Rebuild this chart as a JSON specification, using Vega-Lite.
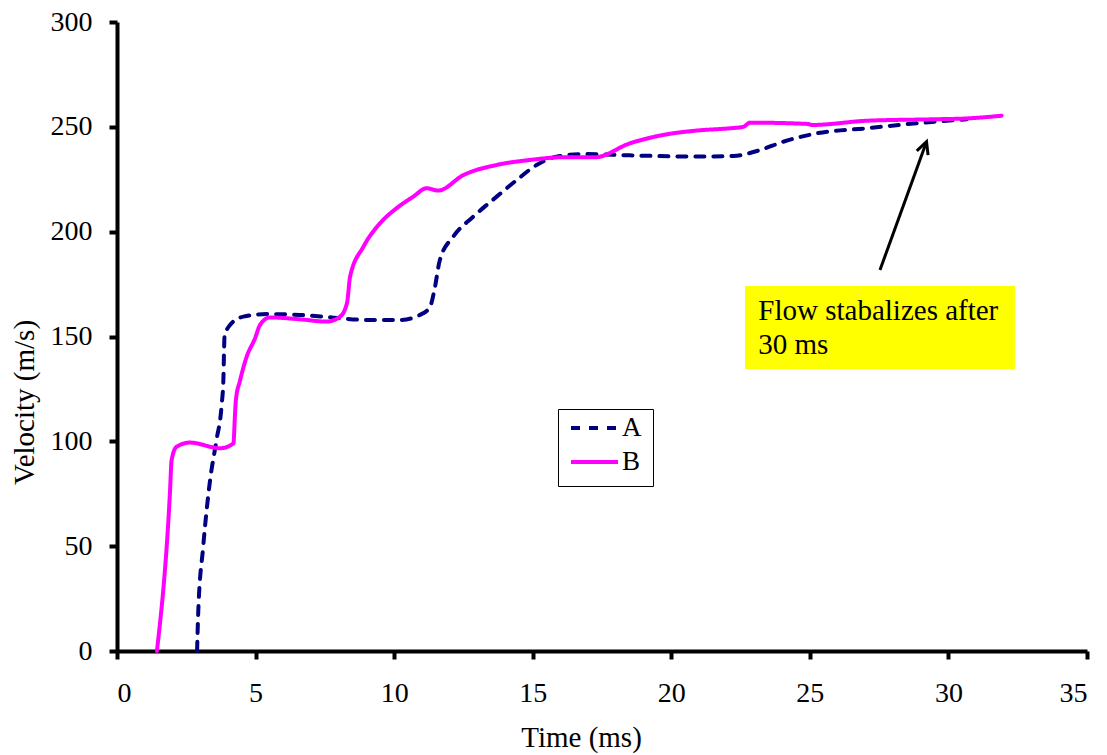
{
  "$schema": "https://vega.github.io/schema/vega-lite/v6.json",
  "autosize": {"type": "none"},
  "padding": {"left": 117, "top": 22, "right": 20, "bottom": 104},
  "width": 970,
  "height": 629,
  "background": "white",
  "config": {
    "view": {"stroke": null},
    "axis": {
      "grid": false,
      "domainColor": "black",
      "domainWidth": 4,
      "tickColor": "black",
      "tickWidth": 4,
      "tickSize": 8,
      "labelFont": "Liberation Serif",
      "labelFontSize": 28,
      "labelColor": "black",
      "titleFont": "Liberation Serif",
      "titleFontSize": 29,
      "titleFontWeight": "normal",
      "titleColor": "black"
    }
  },
  "datasets": {
    "series": [
      {"t": 2.89, "v": 0, "s": "A"}, {"t": 2.93, "v": 18, "s": "A"}, {"t": 3.11, "v": 49.7, "s": "A"},
      {"t": 3.36, "v": 81.6, "s": "A"}, {"t": 3.59, "v": 100.6, "s": "A"}, {"t": 3.77, "v": 116.5, "s": "A"},
      {"t": 3.84, "v": 130, "s": "A"}, {"t": 3.86, "v": 142, "s": "A"}, {"t": 3.88, "v": 150, "s": "A"},
      {"t": 4.08, "v": 155.5, "s": "A"}, {"t": 4.56, "v": 159.5, "s": "A"}, {"t": 5.4, "v": 160.7, "s": "A"},
      {"t": 6.6, "v": 160.3, "s": "A"}, {"t": 7.81, "v": 159, "s": "A"}, {"t": 9.0, "v": 157.9, "s": "A"},
      {"t": 10.21, "v": 157.9, "s": "A"}, {"t": 10.93, "v": 160.3, "s": "A"}, {"t": 11.29, "v": 164, "s": "A"},
      {"t": 11.45, "v": 172, "s": "A"}, {"t": 11.65, "v": 186.5, "s": "A"}, {"t": 12.13, "v": 197.6, "s": "A"},
      {"t": 12.85, "v": 207.1, "s": "A"}, {"t": 13.7, "v": 216.7, "s": "A"}, {"t": 14.42, "v": 224.6, "s": "A"},
      {"t": 15.14, "v": 231.8, "s": "A"}, {"t": 15.86, "v": 235.8, "s": "A"}, {"t": 16.82, "v": 237, "s": "A"},
      {"t": 18.5, "v": 236.4, "s": "A"}, {"t": 20.9, "v": 235.8, "s": "A"}, {"t": 22.24, "v": 236.1, "s": "A"},
      {"t": 23.2, "v": 238.9, "s": "A"}, {"t": 24.04, "v": 242.9, "s": "A"}, {"t": 25.25, "v": 246.9, "s": "A"},
      {"t": 27.05, "v": 249.3, "s": "A"}, {"t": 28.85, "v": 251.7, "s": "A"}, {"t": 30.66, "v": 253.6, "s": "A"},
      {"t": 1.44, "v": 0, "s": "B"}, {"t": 1.91, "v": 75.4, "s": "B"}, {"t": 1.97, "v": 91, "s": "B"},
      {"t": 2.15, "v": 97.4, "s": "B"}, {"t": 2.63, "v": 99.4, "s": "B"}, {"t": 3.72, "v": 96.7, "s": "B"},
      {"t": 4.2, "v": 99, "s": "B"}, {"t": 4.26, "v": 113.5, "s": "B"}, {"t": 4.29, "v": 119.7, "s": "B"},
      {"t": 4.44, "v": 129, "s": "B"}, {"t": 4.68, "v": 140.4, "s": "B"}, {"t": 4.98, "v": 149.1, "s": "B"},
      {"t": 5.16, "v": 155.5, "s": "B"}, {"t": 5.52, "v": 159.1, "s": "B"}, {"t": 6.6, "v": 158.2, "s": "B"},
      {"t": 7.57, "v": 157.1, "s": "B"}, {"t": 8.05, "v": 159.5, "s": "B"}, {"t": 8.3, "v": 166, "s": "B"},
      {"t": 8.41, "v": 178.5, "s": "B"}, {"t": 8.89, "v": 192.8, "s": "B"}, {"t": 9.49, "v": 204, "s": "B"},
      {"t": 10.09, "v": 211.2, "s": "B"}, {"t": 10.69, "v": 216.7, "s": "B"}, {"t": 11.17, "v": 220.7, "s": "B"},
      {"t": 11.59, "v": 219.6, "s": "B"}, {"t": 12.5, "v": 227, "s": "B"}, {"t": 13.7, "v": 231.8, "s": "B"},
      {"t": 14.9, "v": 234.2, "s": "B"}, {"t": 16.1, "v": 235.5, "s": "B"}, {"t": 17.25, "v": 235.5, "s": "B"},
      {"t": 18.5, "v": 242.1, "s": "B"}, {"t": 19.7, "v": 246.1, "s": "B"}, {"t": 20.9, "v": 248.2, "s": "B"},
      {"t": 22.1, "v": 249.3, "s": "B"}, {"t": 22.6, "v": 250, "s": "B"}, {"t": 22.84, "v": 252, "s": "B"},
      {"t": 24.9, "v": 251.4, "s": "B"}, {"t": 25.1, "v": 250.9, "s": "B"}, {"t": 27.05, "v": 252.9, "s": "B"},
      {"t": 29.45, "v": 253.6, "s": "B"}, {"t": 30.66, "v": 254, "s": "B"}, {"t": 31.92, "v": 255.3, "s": "B"}
    ],
    "box": [{"t1": 22.66, "t2": 32.4, "v1": 134.5, "v2": 174.1}],
    "notes": [
      {"t": 23.14, "v": 157.9, "label": "Flow stabalizes after"},
      {"t": 23.14, "v": 141.6, "label": "30 ms"}
    ],
    "arrow": [{"t1": 27.53, "v1": 181.7, "t2": 29.21, "v2": 242.9}]
  },
  "layer": [
    {
      "data": {"name": "box"},
      "mark": {"type": "rect", "fill": "#FFFF00"},
      "encoding": {
        "x": {"field": "t1", "type": "quantitative", "scale": {"domain": [0, 35], "nice": false}},
        "x2": {"field": "t2"},
        "y": {"field": "v1", "type": "quantitative", "scale": {"domain": [0, 300], "nice": false}},
        "y2": {"field": "v2"}
      }
    },
    {
      "data": {"name": "notes"},
      "mark": {"type": "text", "align": "left", "baseline": "alphabetic", "font": "Liberation Serif", "fontSize": 29, "color": "black"},
      "encoding": {
        "x": {"field": "t", "type": "quantitative"},
        "y": {"field": "v", "type": "quantitative"},
        "text": {"field": "label"}
      }
    },
    {
      "data": {"name": "arrow"},
      "mark": {"type": "rule", "stroke": "black", "strokeWidth": 3},
      "encoding": {
        "x": {"field": "t1", "type": "quantitative"},
        "y": {"field": "v1", "type": "quantitative"},
        "x2": {"field": "t2"},
        "y2": {"field": "v2"}
      }
    },
    {
      "data": {"name": "arrow"},
      "mark": {"type": "point", "shape": "M-0.5,1L0,0L0.5,1", "filled": false, "stroke": "black", "strokeWidth": 3, "size": 576, "angle": 20, "opacity": 1},
      "encoding": {
        "x": {"field": "t2", "type": "quantitative"},
        "y": {"field": "v2", "type": "quantitative"}
      }
    },
    {
      "data": {"name": "series"},
      "mark": {"type": "line", "interpolate": "monotone", "strokeWidth": 4, "strokeCap": "round"},
      "encoding": {
        "x": {
          "field": "t", "type": "quantitative",
          "scale": {"domain": [0, 35], "nice": false},
          "axis": {"values": [0, 5, 10, 15, 20, 25, 30, 35], "title": "Time (ms)", "labelPadding": 20, "titleX": 464, "titleY": 95, "titleAlign": "center", "titleBaseline": "alphabetic", "titleAnchor": "middle"}
        },
        "y": {
          "field": "v", "type": "quantitative",
          "scale": {"domain": [0, 300], "nice": false},
          "axis": {"values": [0, 50, 100, 150, 200, 250, 300], "title": "Velocity (m/s)", "labelPadding": 17, "titleX": -84, "titleY": 380, "titleAngle": 270, "titleAlign": "center", "titleBaseline": "alphabetic"}
        },
        "color": {
          "field": "s", "type": "nominal",
          "scale": {"domain": ["A", "B"], "range": ["#000080", "#FF00FF"]},
          "legend": {
            "title": null, "orient": "none", "legendX": 441, "legendY": 387,
            "strokeColor": "black", "fillColor": "white", "padding": 11,
            "symbolType": "stroke", "symbolStrokeWidth": 4, "symbolSize": 2209,
            "clipHeight": 16,
            "labelFont": "Liberation Serif", "labelFontSize": 27, "labelColor": "black",
            "labelOffset": 2, "rowPadding": 7
          }
        },
        "strokeDash": {
          "field": "s", "type": "nominal",
          "scale": {"domain": ["A", "B"], "range": [[9, 9], [1, 0]]},
          "legend": {
            "title": null, "orient": "none", "legendX": 441, "legendY": 387,
            "strokeColor": "black", "fillColor": "white", "padding": 11,
            "symbolType": "stroke", "symbolStrokeWidth": 4, "symbolSize": 2209,
            "clipHeight": 16,
            "labelFont": "Liberation Serif", "labelFontSize": 27, "labelColor": "black",
            "labelOffset": 2, "rowPadding": 7
          }
        }
      }
    }
  ]
}
